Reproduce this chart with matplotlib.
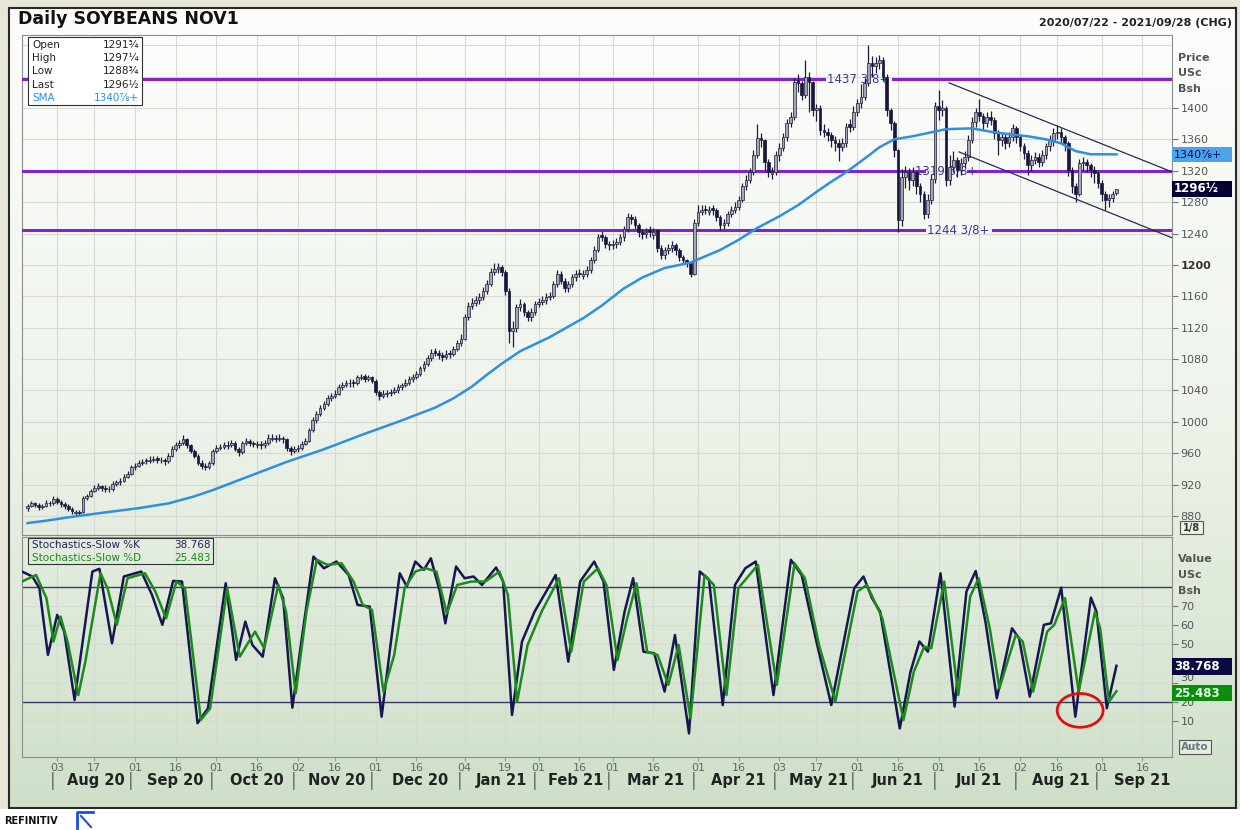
import numpy as np
import matplotlib.pyplot as plt
from matplotlib.patches import Rectangle, Ellipse
from matplotlib.lines import Line2D
from matplotlib.colors import LinearSegmentedColormap
import matplotlib.transforms as mtransforms

plt.rcParams['font.family'] = ['DejaVu Sans']

# ---- data (daily candles, business-day index from 2020-07-22) ----
start_date = '2020-07-22'

opens = [
    890, 893, 896, 894, 891, 893, 897, 896, 902, 898,
    895, 893, 889, 884, 885, 885, 903, 906, 912, 916,
    918, 916, 915, 914, 921, 923, 925, 930, 934, 942,
    944, 948, 951, 950, 952, 954, 952, 951, 950, 957,
    966, 970, 973, 978, 970, 963, 957, 948, 944, 943,
    947, 963, 967, 968, 969, 971, 973, 966, 961, 973,
    976, 973, 971, 972, 970, 973, 978, 980, 978, 980,
    978, 967, 963, 965, 967, 972, 976, 989, 1002, 1010,
    1018, 1023, 1030, 1033, 1036, 1044, 1047, 1049, 1051, 1049,
    1056, 1058, 1055, 1057, 1052, 1038, 1033, 1036, 1037, 1038,
    1040, 1044, 1047, 1050, 1054, 1057, 1061, 1068, 1074, 1081,
    1090, 1088, 1085, 1083, 1088, 1087, 1093, 1100, 1106, 1133,
    1148, 1152, 1155, 1159, 1167, 1176, 1191, 1195, 1197, 1191,
    1167, 1116, 1119, 1146, 1150, 1140, 1133, 1140, 1150, 1153,
    1155, 1159, 1161, 1176, 1189, 1180, 1170, 1176, 1184, 1190,
    1186, 1189, 1193, 1206, 1219, 1238, 1235, 1227, 1225, 1227,
    1229, 1235, 1246, 1261, 1259, 1251, 1242, 1240, 1245, 1238,
    1244, 1222, 1212, 1219, 1222, 1225, 1219, 1210, 1206, 1202,
    1189, 1254, 1267, 1271, 1268, 1272, 1270, 1261, 1251, 1254,
    1265, 1270, 1274, 1283, 1300, 1308, 1318, 1340, 1362, 1359,
    1331, 1316, 1318, 1340, 1349, 1363, 1381, 1388, 1436, 1432,
    1417, 1440, 1433, 1397, 1400, 1372, 1370, 1366, 1359, 1355,
    1350, 1355, 1380, 1376, 1395, 1406, 1414, 1432, 1457, 1453,
    1457, 1461, 1440, 1397, 1381, 1346, 1257, 1312, 1318, 1308,
    1318, 1300, 1291, 1265, 1283, 1310, 1402, 1397, 1400, 1308,
    1325, 1334, 1321, 1330, 1338, 1359, 1382, 1395, 1390, 1381,
    1388, 1385, 1368, 1359, 1363, 1355, 1363, 1374, 1363, 1351,
    1342, 1327, 1334, 1338, 1331, 1340, 1351, 1359, 1368, 1370,
    1363, 1355, 1321, 1300, 1291, 1330, 1331, 1327, 1321, 1317,
    1304, 1291, 1283, 1285, 1291.75]

highs = [
    895, 899, 898, 896, 895, 901, 899, 905, 904, 900,
    898, 895, 891, 888, 888, 905, 908, 915, 919, 922,
    920, 919, 918, 924, 926, 929, 933, 937, 945, 948,
    951, 953, 954, 956, 957, 957, 955, 954, 960, 969,
    974, 977, 983, 980, 972, 965, 959, 951, 947, 950,
    966, 971, 972, 974, 975, 977, 975, 968, 976, 980,
    978, 976, 976, 975, 977, 984, 984, 983, 984, 982,
    980, 969, 969, 971, 975, 980, 992, 1006, 1014, 1022,
    1027, 1034, 1037, 1040, 1048, 1051, 1053, 1054, 1055, 1060,
    1061, 1061, 1060, 1059, 1054, 1040, 1040, 1041, 1042, 1044,
    1048, 1050, 1054, 1058, 1061, 1065, 1071, 1078, 1085, 1093,
    1094, 1091, 1089, 1091, 1092, 1097, 1104, 1112, 1137, 1153,
    1158, 1160, 1164, 1172, 1181, 1196, 1202, 1203, 1200, 1193,
    1170, 1128, 1150, 1156, 1153, 1143, 1145, 1154, 1158, 1160,
    1164, 1166, 1180, 1194, 1192, 1183, 1180, 1188, 1194, 1195,
    1194, 1198, 1210, 1224, 1240, 1243, 1238, 1231, 1232, 1234,
    1240, 1250, 1266, 1265, 1262, 1254, 1246, 1247, 1249, 1247,
    1246, 1225, 1223, 1227, 1230, 1228, 1221, 1213, 1208, 1204,
    1258, 1276, 1276, 1276, 1275, 1276, 1272, 1263, 1259, 1269,
    1275, 1280, 1288, 1305, 1314, 1324, 1346, 1380, 1368, 1361,
    1335, 1325, 1345, 1355, 1368, 1386, 1395, 1438, 1443, 1435,
    1461, 1446, 1435, 1405, 1404, 1380, 1374, 1370, 1364, 1360,
    1362, 1381, 1386, 1402, 1412, 1430, 1438, 1480, 1466, 1465,
    1468, 1465, 1443, 1400, 1384, 1348, 1322, 1326, 1324, 1325,
    1320, 1305, 1294, 1290, 1316, 1408, 1423, 1410, 1402, 1340,
    1345, 1338, 1336, 1345, 1365, 1388, 1400, 1412, 1394, 1395,
    1396, 1388, 1372, 1368, 1367, 1369, 1380, 1377, 1366, 1355,
    1346, 1340, 1344, 1342, 1346, 1356, 1365, 1374, 1378, 1374,
    1366, 1358, 1325, 1305, 1335, 1338, 1335, 1330, 1326, 1320,
    1308, 1294, 1290, 1294, 1297.25]

lows = [
    887, 891, 891, 888, 889, 891, 893, 894, 895, 892,
    889, 886, 882, 881, 880, 884, 900, 904, 910, 913,
    912, 911, 910, 912, 918, 920, 923, 928, 932, 939,
    942, 945, 946, 947, 949, 948, 947, 945, 948, 955,
    963, 967, 970, 967, 960, 954, 945, 940, 939, 940,
    945, 960, 964, 965, 966, 968, 963, 957, 959, 970,
    969, 968, 967, 966, 967, 971, 975, 974, 975, 973,
    963, 958, 960, 962, 964, 970, 974, 987, 999, 1007,
    1015, 1020, 1027, 1030, 1034, 1041, 1044, 1045, 1045, 1047,
    1053, 1051, 1052, 1049, 1034, 1028, 1030, 1032, 1033, 1035,
    1037, 1041, 1044, 1047, 1051, 1054, 1058, 1065, 1071, 1078,
    1084, 1080, 1078, 1080, 1082, 1084, 1090, 1097, 1104, 1130,
    1144, 1148, 1150, 1155, 1163, 1173, 1187, 1190, 1186, 1162,
    1100, 1095, 1115, 1141, 1135, 1128, 1129, 1136, 1146, 1149,
    1150, 1155, 1158, 1172, 1176, 1165, 1166, 1172, 1180, 1184,
    1182, 1185, 1190, 1203, 1216, 1230, 1222, 1219, 1220, 1222,
    1225, 1231, 1242, 1252, 1246, 1236, 1233, 1234, 1236, 1233,
    1217, 1207, 1208, 1214, 1217, 1213, 1205, 1201, 1197, 1184,
    1187, 1250, 1263, 1265, 1263, 1264, 1256, 1245, 1246, 1250,
    1261, 1266, 1270, 1280, 1295, 1304, 1315, 1336, 1350, 1320,
    1312, 1310, 1314, 1333, 1345, 1358, 1376, 1385, 1420, 1410,
    1413, 1395, 1390, 1384, 1366, 1363, 1358, 1350, 1345, 1333,
    1345, 1350, 1370, 1372, 1390, 1400, 1410, 1428, 1440, 1445,
    1450, 1435, 1390, 1372, 1338, 1242, 1250, 1298, 1295, 1300,
    1290, 1280, 1258, 1260, 1278, 1305, 1385, 1390, 1300, 1302,
    1318, 1312, 1315, 1325, 1333, 1355, 1376, 1384, 1372, 1376,
    1378, 1360, 1340, 1352, 1348, 1350, 1358, 1356, 1345, 1335,
    1315, 1320, 1328, 1325, 1326, 1335, 1345, 1352, 1360, 1356,
    1345, 1313, 1292, 1280, 1288, 1320, 1318, 1312, 1305, 1298,
    1282, 1270, 1274, 1280, 1288.75]

closes = [
    893, 896, 894, 891, 893, 897, 896, 902, 898, 895,
    893, 889, 886, 885, 884, 903, 905, 912, 916, 918,
    916, 915, 914, 921, 923, 925, 930, 934, 942, 944,
    948, 949, 950, 952, 953, 952, 951, 950, 957, 966,
    970, 973, 978, 970, 963, 957, 948, 944, 943, 947,
    963, 967, 968, 970, 971, 973, 966, 961, 973, 976,
    973, 972, 972, 970, 973, 980, 980, 978, 980, 978,
    967, 963, 965, 967, 972, 976, 989, 1002, 1010, 1018,
    1023, 1030, 1033, 1036, 1044, 1047, 1049, 1050, 1049, 1057,
    1057, 1055, 1057, 1052, 1038, 1033, 1036, 1037, 1038, 1040,
    1044, 1047, 1050, 1054, 1057, 1061, 1068, 1074, 1081, 1088,
    1088, 1085, 1083, 1087, 1087, 1093, 1100, 1106, 1133, 1148,
    1152, 1155, 1159, 1167, 1176, 1191, 1195, 1197, 1191, 1167,
    1116, 1119, 1146, 1150, 1140, 1133, 1140, 1150, 1153, 1155,
    1159, 1161, 1176, 1189, 1180, 1170, 1176, 1184, 1189, 1189,
    1189, 1193, 1206, 1219, 1235, 1235, 1227, 1225, 1227, 1229,
    1235, 1246, 1261, 1259, 1251, 1242, 1240, 1242, 1242, 1242,
    1222, 1212, 1219, 1222, 1225, 1219, 1210, 1206, 1202, 1189,
    1254, 1267, 1270, 1270, 1270, 1270, 1261, 1251, 1254, 1265,
    1270, 1274, 1283, 1300, 1308, 1318, 1340, 1362, 1359, 1331,
    1318, 1318, 1340, 1349, 1363, 1381, 1388, 1433, 1432, 1417,
    1440, 1433, 1397, 1400, 1372, 1370, 1366, 1359, 1355, 1350,
    1355, 1376, 1376, 1395, 1406, 1414, 1432, 1457, 1453, 1457,
    1461, 1440, 1397, 1381, 1346, 1257, 1312, 1318, 1308, 1318,
    1300, 1291, 1265, 1283, 1310, 1402, 1397, 1400, 1308, 1325,
    1334, 1321, 1330, 1338, 1359, 1382, 1395, 1390, 1381, 1388,
    1385, 1368, 1359, 1363, 1355, 1363, 1374, 1363, 1351, 1342,
    1327, 1334, 1338, 1331, 1340, 1351, 1359, 1368, 1370, 1363,
    1355, 1321, 1300, 1291, 1330, 1331, 1327, 1321, 1317, 1304,
    1291, 1283, 1285, 1291, 1296.5]

# simple moving average, read at sample days
sma_idx = [0, 5, 12, 20, 25, 30, 38, 45, 50, 55, 60, 65, 70, 75, 80, 90, 100, 110, 115,
           120, 124, 128, 133, 141, 150, 155, 161, 166, 172, 179, 187, 192, 197, 203, 208,
           213, 217, 220, 223, 227, 230, 234, 239, 243, 248, 255, 261, 266, 270, 275, 279,
           283, 287, 290, 294]
sma_val = [871, 874, 879, 884, 887, 890, 896, 905, 913, 922, 931, 940, 949, 957, 965,
           983, 1000, 1018, 1030, 1045, 1060, 1074, 1090, 1108, 1132, 1148, 1170, 1184,
           1196, 1203, 1219, 1232, 1247, 1262, 1276, 1293, 1306, 1315, 1325, 1339, 1350,
           1360, 1364, 1368, 1373, 1374, 1369, 1366, 1364, 1360, 1355, 1345, 1341, 1341,
           1340.875]

# stochastics slow %K, read at turning points
k_idx = [-1.5, 1.3, 3.2, 5.5, 8, 9.9, 12.7, 17.5, 19.4, 22.8, 26, 30.7, 33.6, 36.4, 39.3,
         41.7, 45.9, 48.7, 53.5, 56.3, 58.8, 60.7, 63.5, 66.8, 69, 71.5, 74.3, 77.2, 80,
         83.4, 86.7, 89.1, 92.4, 95.6, 98, 100.5, 102.4, 104.7, 107, 108.9, 111.3, 112.8,
         115.7, 118, 120.4, 122.7, 126.5, 128.4, 130.8, 133.5, 136.9, 142.6, 146, 149.2,
         153, 155.5, 158.3, 161.2, 163.5, 166.3, 169.2, 172, 174.8, 178.6, 181.5, 184,
         187.7, 191, 193.8, 196.6, 201.4, 206.1, 209, 212.8, 217, 223.2, 225.7, 228, 230.2,
         235.5, 238.4, 240.8, 243.1, 246.5, 250.3, 253.5, 256, 258.7, 261.7, 265.8, 267.7,
         270.6, 274.4, 276.3, 279.1, 282.9, 287.1, 288.6, 291.4, 294]
k_val = [87.9, 85.3, 79.2, 44.4, 65.3, 56.6, 20.9, 87.9, 89.3, 50.5, 85.3, 87.9, 75.7, 60.1,
         83, 82.7, 8.8, 16.6, 81.8, 41.8, 61.8, 49.6, 43.5, 84.4, 74, 16.9, 56.6, 95.7, 89.6,
         93.1, 86.1, 70.5, 69.6, 12.2, 49.6, 87, 80.1, 93.1, 88.8, 94.8, 77.5, 60.9,
         90.5, 84.4, 85.3, 80.9, 90, 82.7, 13.1, 51.4, 67, 86.1, 40.9, 82.7,
         93.1, 82.7, 36.6, 67, 84.4, 46.1, 45.3, 25.3, 54.8, 3.5, 87.9, 83.5,
         18.3, 80.9, 89.6, 93.1, 23.5, 94, 86.1, 53.1, 18.3, 79.2, 85.3, 74, 67,
         6.1, 35.7, 51.4, 46.1, 87, 17.5, 77.5, 88.2, 60.9, 21.8, 58.3, 53.1,
         22.7, 60.1, 60.9, 79.5, 12.2, 74.3, 67, 16.6, 38.768]

# stochastics slow %D, read at turning points
d_idx = [-1.5, 2.3, 5.1, 7, 8.9, 10.8, 13.7, 15.6, 19.7, 21.6, 24.1, 27, 31.7, 34.5, 37.4,
         40.2, 42.5, 46.8, 49.3, 53.9, 57.3, 59.2, 61.4, 63.9, 67.7, 69.8, 72.4, 75.3, 78.1,
         81, 84.8, 88, 90.5, 93, 96.1, 99, 101.8, 104.7, 107.5, 110.4, 113.2, 116, 119.9,
         123.6, 127.4, 129.7, 132.2, 135, 138.8, 143.5, 146.8, 150.2, 154, 156.3, 159.3,
         161.9, 164.4, 167.3, 170.1, 173, 175.8, 179, 182.8, 185.3, 188.7, 191.9, 197.2,
         202.3, 207.1, 209.9, 213.7, 218.1, 224.1, 226.6, 230.8, 236.5, 239.3, 242.1, 244,
         247.5, 251.3, 254.5, 256.8, 259.8, 262.4, 266.8, 268.7, 271.5, 275.3, 277.2, 280.1,
         283.8, 288.2, 289.6, 292, 294]
d_val = [82.7, 86.1, 74, 51.4, 64.4, 51.4, 23.5, 40.9, 87, 79.2, 60.1, 84.4, 87, 77.5, 63.5,
         82.7, 79.2, 10.5, 16.6, 79.2, 43.5, 49.6, 56.6, 47.9, 80.9, 67, 24.4, 67, 94,
         91.4, 92.2, 82.7, 70.5, 67.9, 25.3, 44.4, 79.2, 87.9, 89.6, 87.9, 66.1, 80.9, 82.7,
         82.7, 87.9, 75.7, 20.1, 49.6, 67, 84.4, 46.1, 82.7, 89.6, 80.9, 41.8,
         63.5, 81.8, 46.1, 44.4, 28.8, 49.6, 11.4, 86.1, 80.9, 23.5, 79.2, 91.4,
         28.8, 92.2, 84.4, 49.6, 20.1, 77.5, 80.9, 63.5, 10.5, 35.7, 48.7, 47.9,
         82.7, 23.5, 74.8, 84.4, 58.3, 27, 54.8, 51.4, 25.3, 56.6, 60.1, 74,
         25.3, 67, 58.3, 20.1, 25.483]

# reference levels drawn on the price panel
levels = [1437.375, 1319.375, 1244.375]
level_labels = ['1437 3/8+', '1319 3/8+', '1244 3/8+']

tick_dates = ['2020-08-03', '2020-08-17', '2020-09-01', '2020-09-16', '2020-10-01',
              '2020-10-16', '2020-11-02', '2020-11-16', '2020-12-01', '2020-12-16',
              '2021-01-04', '2021-01-19', '2021-02-01', '2021-02-16', '2021-03-01',
              '2021-03-16', '2021-04-01', '2021-04-16', '2021-05-03', '2021-05-17',
              '2021-06-01', '2021-06-16', '2021-07-01', '2021-07-16', '2021-08-02',
              '2021-08-16', '2021-09-01', '2021-09-16']
month_labels = ['Aug 20', 'Sep 20', 'Oct 20', 'Nov 20', 'Dec 20', 'Jan 21', 'Feb 21',
                'Mar 21', 'Apr 21', 'May 21', 'Jun 21', 'Jul 21', 'Aug 21', 'Sep 21']

# ---- derived positions ----
o = np.array(opens, float)
h = np.array(highs, float)
l = np.array(lows, float)
c = np.array(closes, float)
x = np.arange(len(c))
ticks = np.busday_count(start_date, tick_dates)
day_labels = [d[-2:] for d in tick_dates]
month_start = ticks[0::2]
month_end = np.append(month_start[1:], np.busday_count(start_date, '2021-10-01'))
x_end = np.busday_count(start_date, '2021-09-28')
xlim = (-1.5, x_end)


def fx(px):
    return px / 1240


def fy(py):
    return 1 - py / 830


fig = plt.figure(figsize=(12.4, 8.3), dpi=100)
fig.patch.set_facecolor('#e8e5d9')
fig.add_artist(Rectangle((0, 0), 1, fy(809), transform=fig.transFigure,
                         fc='white', ec='none', zorder=0))

# gradient panel
bg = fig.add_axes([fx(9), fy(808), fx(1236) - fx(9), fy(8) - fy(808)], zorder=-5)
grad = np.linspace(0, 1, 256).reshape(-1, 1)
cmap = LinearSegmentedColormap.from_list('bg', ['#fdfefc', '#eef4eb', '#cfdfc8'])
bg.imshow(grad, aspect='auto', cmap=cmap, extent=[0, 1, 0, 1], origin='upper')
bg.set_xticks([])
bg.set_yticks([])
for s in bg.spines.values():
    s.set_color('#2a2a2a')
    s.set_linewidth(1.5)

# ---- price panel ----
ax = fig.add_axes([fx(22), fy(535), fx(1172) - fx(22), fy(35) - fy(535)])
ax.set_facecolor('none')
ax.set_xlim(*xlim)
ax.set_ylim(855.8, 1493)

up = c >= o
ax.vlines(x, l, h, color='#1c1c3c', lw=0.9, zorder=4)
ax.bar(x, np.maximum(np.abs(c - o), 0.8), bottom=np.minimum(o, c), width=0.72,
       color=np.where(up, '#a6a6b2', '#16163e'), edgecolor='#1c1c3c', lw=0.5, zorder=5)
ax.plot(sma_idx, sma_val, color='#2f8fe0', lw=1.8, zorder=6)

# horizontal levels with gaps for their labels
gaps = [(215, 233.6), (242, 254), (242, 260.6)]
centers = [224.3, 248, 251.3]
for lev, lab, (g0, g1), cx in zip(levels, level_labels, gaps, centers):
    ax.plot([xlim[0], g0], [lev, lev], color='#8421cf', lw=2.2, zorder=3)
    ax.plot([g1, xlim[1]], [lev, lev], color='#8421cf', lw=2.2, zorder=3)
    ax.text(cx, lev, lab, color='#3a3a96', fontsize=8.5, ha='center', va='center', zorder=3.5)

# trend channel
ax.plot([248.8, 309.3], [1432, 1318], color='#2a2a5a', lw=0.9, zorder=6)
ax.plot([251.5, 309.3], [1344, 1234], color='#2a2a5a', lw=0.9, zorder=6)

ax.set_yticks(range(880, 1401, 40))
ax.set_xticks(ticks)
for yy in (1440, 1480):
    ax.axhline(yy, color='#d6dad3', lw=0.8, zorder=1)
ax.grid(True, color='#d6dad3', lw=0.8, zorder=1)
ax.set_axisbelow(True)
ax.yaxis.tick_right()
ax.tick_params(axis='y', direction='out', length=4, color='#777777', labelsize=8,
               labelcolor='#555555', pad=2)
ax.tick_params(axis='x', length=0, labelbottom=False)
for lab in ax.get_yticklabels():
    if lab.get_text() == '1200':
        lab.set_fontweight('bold')
        lab.set_color('#333333')
for s in ax.spines.values():
    s.set_color('#8c8c8c')

# ---- stochastics panel ----
ax2 = fig.add_axes([fx(22), fy(757), fx(1172) - fx(22), fy(537) - fy(757)])
ax2.set_facecolor('none')
ax2.set_xlim(*xlim)
ax2.set_ylim(-8.8, 105.9)
ax2.axhline(80, color='#3a3a6a', lw=1, zorder=2)
ax2.axhline(20, color='#3a3a6a', lw=1, zorder=2)
ax2.plot(k_idx, k_val, color='#161650', lw=1.8, zorder=4)
ax2.plot(d_idx, d_val, color='#1d8a1d', lw=1.8, zorder=5)
ax2.add_patch(Ellipse((284.2, 15.5), 12.4, 17.6, fill=False, ec='#e01010', lw=2, zorder=7))

ax2.set_yticks([10, 20, 30, 50, 60, 70])
ax2.set_xticks(ticks)
ax2.set_xticklabels(day_labels)
ax2.grid(True, color='#d6dad3', lw=0.8, zorder=1)
ax2.set_axisbelow(True)
ax2.yaxis.tick_right()
ax2.tick_params(axis='y', direction='out', length=4, color='#777777', labelsize=8,
                labelcolor='#555555', pad=2)
ax2.tick_params(axis='x', direction='out', length=3, color='#999999', labelsize=8,
                labelcolor='#666666', pad=1)
for lab in ax2.get_yticklabels():
    if lab.get_text() == '30':
        lab.set_va('bottom')
for s in ax2.spines.values():
    s.set_color('#8c8c8c')

trans = mtransforms.blended_transform_factory(ax2.transData, ax2.transAxes)
for ms, me, name in zip(month_start, month_end, month_labels):
    ax2.text(ms - 1.2, -0.108, '|', transform=trans, ha='center', va='center',
             fontsize=12, color='#666666')
    ax2.text((ms + me) / 2, -0.108, name, transform=trans, ha='center', va='center',
             fontsize=10.5, fontweight='bold', color='#222222')

# ---- titles and side annotations ----
fig.text(fx(18), fy(19), 'Daily SOYBEANS NOV1', fontsize=12.5, fontweight='bold',
         color='#111111', va='center')
fig.text(fx(1232), fy(23), '2020/07/22 - 2021/09/28 (CHG)', fontsize=8,
         fontweight='bold', color='#222222', ha='right', va='center')
for yy, t in zip((58, 73, 89), ('Price', 'USc', 'Bsh')):
    fig.text(fx(1178), fy(yy), t, fontsize=8, fontweight='bold', color='#555555', va='center')
for yy, t in zip((559, 575, 591), ('Value', 'USc', 'Bsh')):
    fig.text(fx(1178), fy(yy), t, fontsize=8, fontweight='bold', color='#555555', va='center')


def box(x0, y0, x1, y1, fc, ec='none', lw=0.8):
    fig.add_artist(Rectangle((fx(x0), fy(y1)), fx(x1) - fx(x0), fy(y0) - fy(y1),
                             transform=fig.transFigure, fc=fc, ec=ec, lw=lw, zorder=4))


box(1172, 147, 1232, 162, '#4aa3ec')
fig.text(fx(1174), fy(154.5), '1340⅞+', fontsize=8, color='#0a0a50', va='center', zorder=5)
box(1172, 181, 1232, 197, '#000033')
fig.text(fx(1174), fy(189), '1296½', fontsize=8.5, fontweight='bold', color='white',
         va='center', zorder=5)
box(1172, 658, 1232, 675, '#0a0a40')
fig.text(fx(1174), fy(666.5), '38.768', fontsize=8.5, fontweight='bold', color='white',
         va='center', zorder=5)
box(1172, 685, 1232, 701, '#0c8c0c')
fig.text(fx(1174), fy(693), '25.483', fontsize=8.5, fontweight='bold', color='#dcffdc',
         va='center', zorder=5)
box(1180, 521, 1203, 534, '#eef3ea', ec='#555555')
fig.text(fx(1191.5), fy(527.5), '1/8', fontsize=7, fontweight='bold', color='#333333',
         ha='center', va='center', zorder=5)
box(1179, 740, 1211, 754, '#e4ede0', ec='#555555')
fig.text(fx(1195), fy(747), 'Auto', fontsize=7.5, fontweight='bold', color='#667788',
         ha='center', va='center', zorder=5)

# OHLC info box
box(28, 37, 142, 105, 'white', ec='#333333')
info_names = ['Open', 'High', 'Low', 'Last', 'SMA']
info_vals = ['1291¾', '1297¼', '1288¾', '1296½', '1340⅞+']
for i, (n, v) in enumerate(zip(info_names, info_vals)):
    col = '#2a8ee0' if n == 'SMA' else '#222222'
    fig.text(fx(32), fy(45 + 13.2 * i), n, fontsize=7.5, color=col, va='center', zorder=5)
    fig.text(fx(139), fy(45 + 13.2 * i), v, fontsize=7.5, color=col, va='center',
             ha='right', zorder=5)

# stochastics legend box
box(28, 538, 213, 564, 'none', ec='#333333')
fig.text(fx(32), fy(545), 'Stochastics-Slow %K', fontsize=7.5, color='#222260', va='center')
fig.text(fx(211), fy(545), '38.768', fontsize=7.5, color='#222260', va='center', ha='right')
fig.text(fx(32), fy(557.5), 'Stochastics-Slow %D', fontsize=7.5, color='#1d8a1d', va='center')
fig.text(fx(211), fy(557.5), '25.483', fontsize=7.5, color='#1d8a1d', va='center', ha='right')

# footer logo
fig.text(fx(4), fy(821), 'REFINITIV', fontsize=7, fontweight='bold', color='#111111',
         va='center')
fig.add_artist(Line2D([fx(77), fx(77), fx(93)], [fy(828), fy(812), fy(812)],
                      transform=fig.transFigure, color='#1a4fe0', lw=2))
fig.add_artist(Line2D([fx(81), fx(91)], [fy(816), fy(827)],
                      transform=fig.transFigure, color='#1a4fe0', lw=1.5))

fig.savefig('out.png', dpi=100)
